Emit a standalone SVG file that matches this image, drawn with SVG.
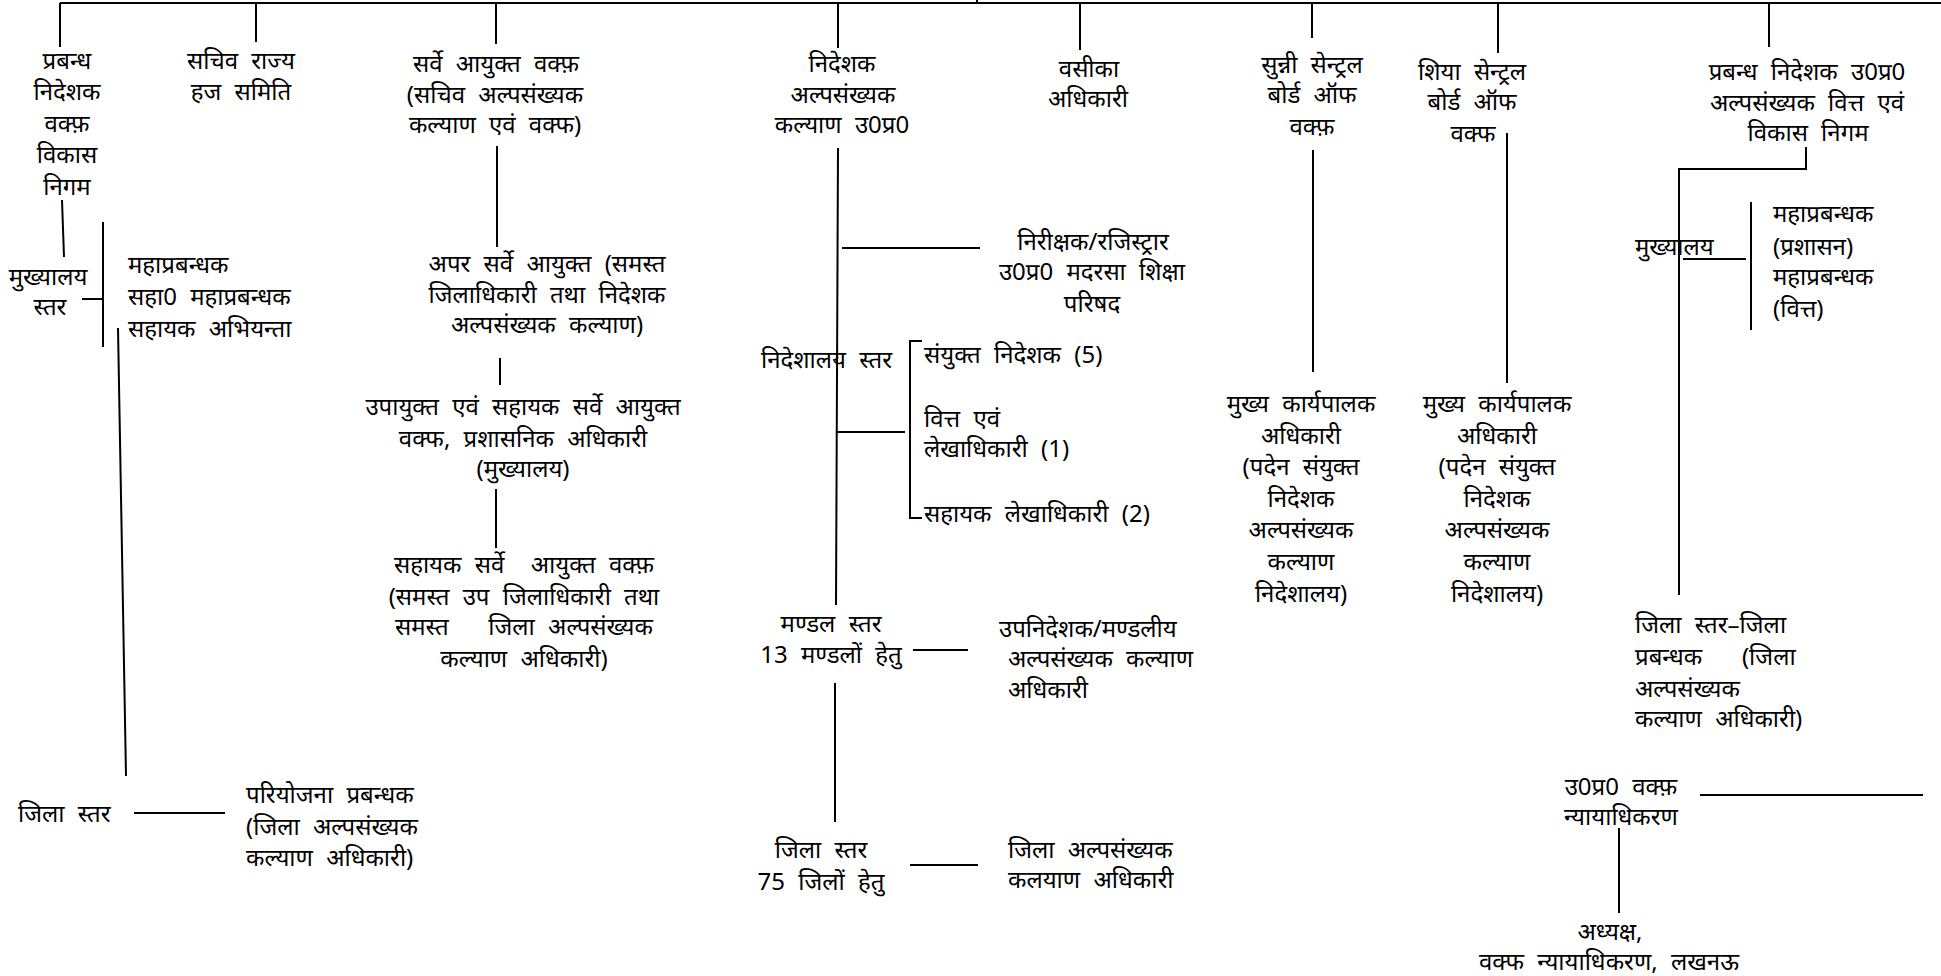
<svg xmlns="http://www.w3.org/2000/svg" width="1941" height="976" viewBox="0 0 1941 976">
<style>
text{font-family:"Noto Sans","Liberation Sans",sans-serif;font-size:24px;word-spacing:7px;fill:#000;dominant-baseline:central;white-space:pre}
.c{text-anchor:middle}
.s{text-anchor:start}
.l{stroke:#000;stroke-width:2;fill:none}
</style>
<rect width="1941" height="976" fill="#fff"/>
<g id="connectors" class="l">
<path d="M60,3H1941M977,0V3M60,3V47M256,3V42M496,3V44M838,3V48M1080,3V50M1312,3V38M1498,3V53M1769,3V47"/>
<path d="M62,200L64,257M82,299H102M103,222V347M118,328L126,776M134,813H225"/>
<path d="M497,146V247M500,358V385M496,489V548"/>
<path d="M838,148L836,605M842,248H980M922,341H910V518H922M836,432H905M913,650H968M835,683V822M910,865H978"/>
<path d="M1313,150V372M1507,133V383"/>
<path d="M1806,147V169H1679V595M1683,259H1746M1751,202V330"/>
<path d="M1700,795H1923M1619,828V913"/>
</g>
<g id="n1" class="c"><text x="67" y="59">प्रबन्ध</text><text x="67" y="90">निदेशक</text><text x="67" y="122">वक्फ़</text><text x="67" y="153">विकास</text><text x="67" y="185">निगम</text></g>
<g id="n1a" class="c"><text x="48" y="275">मुख्यालय</text><text x="50" y="305">स्तर</text></g>
<g id="n1b" class="s"><text x="128" y="263">महाप्रबन्धक</text><text x="128" y="295">सहा0 महाप्रबन्धक</text><text x="128" y="327">सहायक अभियन्ता</text></g>
<g id="n1c" class="s"><text x="18" y="812">जिला स्तर</text></g>
<g id="n1d" class="s"><text x="246" y="793">परियोजना प्रबन्धक</text><text x="246" y="825">(जिला अल्पसंख्यक</text><text x="246" y="856">कल्याण अधिकारी)</text></g>
<g id="n2" class="c"><text x="241" y="59">सचिव राज्य</text><text x="241" y="90">हज समिति</text></g>
<g id="n3" class="c"><text x="496" y="62">सर्वे आयुक्त वक्फ़</text><text x="495" y="93">(सचिव अल्पसंख्यक</text><text x="495" y="123">कल्याण एवं वक्फ)</text></g>
<g id="n3a" class="c"><text x="547" y="262">अपर सर्वे आयुक्त (समस्त</text><text x="547" y="293">जिलाधिकारी तथा निदेशक</text><text x="547" y="323">अल्पसंख्यक कल्याण)</text></g>
<g id="n3b" class="c"><text x="523" y="405">उपायुक्त एवं सहायक सर्वे आयुक्त</text><text x="523" y="437">वक्फ, प्रशासनिक अधिकारी</text><text x="523" y="467">(मुख्यालय)</text></g>
<g id="n3c" class="c"><text x="524" y="563">सहायक सर्वे  आयुक्त वक्फ़</text><text x="524" y="595">(समस्त उप जिलाधिकारी तथा</text><text x="524" y="625">समस्त   जिला अल्पसंख्यक</text><text x="524" y="657">कल्याण अधिकारी)</text></g>
<g id="n4" class="c"><text x="842" y="62">निदेशक</text><text x="843" y="93">अल्पसंख्यक</text><text x="842" y="123">कल्याण उ0प्र0</text></g>
<g id="n4a" class="c"><text x="1093" y="240">निरीक्षक/रजिस्ट्रार</text><text x="1092" y="270">उ0प्र0 मदरसा शिक्षा</text><text x="1092" y="302">परिषद</text></g>
<g id="n4b" class="s"><text x="761" y="358">निदेशालय स्तर</text></g>
<g id="n4c" class="s"><text x="924" y="353">संयुक्त निदेशक (5)</text><text x="924" y="417">वित्त एवं</text><text x="924" y="447">लेखाधिकारी (1)</text><text x="924" y="512">सहायक लेखाधिकारी (2)</text></g>
<g id="n4d" class="c"><text x="831" y="622">मण्डल स्तर</text><text x="831" y="653">13 मण्डलों हेतु</text></g>
<g id="n4e" class="s"><text x="999" y="627">उपनिदेशक/मण्डलीय</text><text x="1008" y="657">अल्पसंख्यक कल्याण</text><text x="1008" y="688">अधिकारी</text></g>
<g id="n4f" class="c"><text x="821" y="848">जिला स्तर</text><text x="821" y="880">75 जिलों हेतु</text></g>
<g id="n4g" class="s"><text x="1008" y="848">जिला अल्पसंख्यक</text><text x="1008" y="878">कलयाण अधिकारी</text></g>
<g id="n5" class="c"><text x="1089" y="67">वसीका</text><text x="1088" y="97">अधिकारी</text></g>
<g id="n6" class="c"><text x="1312" y="63">सुन्नी सेन्ट्रल</text><text x="1312" y="93">बोर्ड ऑफ</text><text x="1312" y="125">वक्फ़</text></g>
<g id="n6a" class="c"><text x="1301" y="402">मुख्य कार्यपालक</text><text x="1301" y="434">अधिकारी</text><text x="1301" y="465">(पदेन संयुक्त</text><text x="1301" y="497">निदेशक</text><text x="1301" y="528">अल्पसंख्यक</text><text x="1301" y="560">कल्याण</text><text x="1301" y="592">निदेशालय)</text></g>
<g id="n7" class="c"><text x="1472" y="70">शिया सेन्ट्रल</text><text x="1472" y="100">बोर्ड ऑफ</text><text x="1473" y="132">वक्फ</text></g>
<g id="n7a" class="c"><text x="1497" y="402">मुख्य कार्यपालक</text><text x="1497" y="434">अधिकारी</text><text x="1497" y="465">(पदेन संयुक्त</text><text x="1497" y="497">निदेशक</text><text x="1497" y="528">अल्पसंख्यक</text><text x="1497" y="560">कल्याण</text><text x="1497" y="592">निदेशालय)</text></g>
<g id="n8" class="c"><text x="1807" y="70">प्रबन्ध निदेशक उ0प्र0</text><text x="1807" y="101">अल्पसंख्यक वित्त एवं</text><text x="1808" y="131">विकास निगम</text></g>
<g id="n8a" class="s"><text x="1635" y="245">मुख्यालय</text></g>
<g id="n8b" class="s"><text x="1773" y="212">महाप्रबन्धक</text><text x="1773" y="245">(प्रशासन)</text><text x="1773" y="275">महाप्रबन्धक</text><text x="1773" y="307">(वित्त)</text></g>
<g id="n8c" class="s"><text x="1635" y="623">जिला स्तर–जिला</text><text x="1635" y="655">प्रबन्धक   (जिला</text><text x="1635" y="687">अल्पसंख्यक</text><text x="1635" y="717">कल्याण अधिकारी)</text></g>
<g id="n9" class="c"><text x="1621" y="785">उ0प्र0 वक्फ़</text><text x="1621" y="815">न्यायाधिकरण</text></g>
<g id="n9a" class="c"><text x="1610" y="930">अध्यक्ष,</text><text x="1609" y="960">वक्फ न्यायाधिकरण, लखनऊ</text></g>
</svg>
